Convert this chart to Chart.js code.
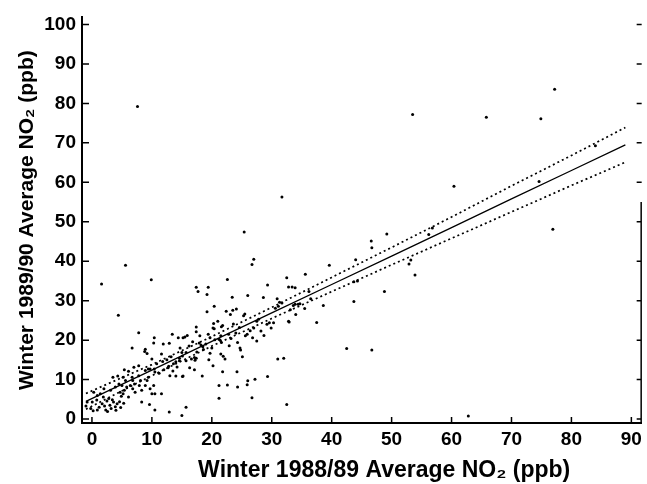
<!DOCTYPE html>
<html lang="en">
  <head>
    <meta charset="UTF-8" />
    <script src="https://cdn.jsdelivr.net/npm/chart.js@4.4.0/dist/chart.umd.min.js"></script>
    <title>Winter NO2 comparison</title>
    <style>
      body {
        margin: 0;
        padding: 0;
        background: #fff;
      }
      canvas {
        display: block;
      }
    </style>
  </head>
  <body>
    <canvas id="no2Chart" width="647" height="484"></canvas>
    <script>
      // station averages, [winter 88/89, winter 89/90] in ppb
      const stationPoints = [
        [7.6, 79.2], [31.7, 56.3], [25.4, 47.4], [77.2, 83.6], [53.5, 77.2], [65.8, 76.5],
        [74.9, 76.1], [84.0, 69.3], [60.4, 59.0], [74.6, 60.2], [76.9, 48.1],
        [49.2, 46.9], [56.2, 46.8], [56.8, 48.4], [46.6, 45.1], [46.7, 43.4], [44.0, 40.4],
        [39.6, 39.0], [35.6, 36.7], [32.5, 35.8], [32.8, 33.5], [33.4, 33.5], [33.9, 33.3],
        [36.2, 32.3], [53.2, 40.3], [52.9, 39.3], [53.9, 36.5], [48.8, 32.3], [43.7, 29.8],
        [38.6, 28.8], [32.9, 24.6], [37.5, 24.5], [42.5, 17.9], [46.7, 17.5], [32.0, 15.4],
        [32.5, 3.7], [62.8, 0.8], [31.7, 29.4], [33.1, 27.7], [33.6, 28.8], [34.4, 29.1],
        [43.7, 34.8], [44.3, 35.0], [33.9, 29.1], [34.7, 29.2], [35.5, 28.0], [36.5, 30.5],
        [34.0, 26.5],
        [5.6, 39.0], [1.6, 34.2], [9.9, 35.3], [4.4, 26.3], [7.8, 21.9], [13.4, 21.5],
        [27.0, 40.5], [26.7, 39.2], [22.6, 35.4], [17.4, 33.4], [19.4, 33.4], [17.7, 32.3],
        [19.2, 31.6], [29.3, 34.0], [26.0, 31.3], [23.4, 30.9], [28.6, 30.8], [20.4, 28.6],
        [19.2, 27.2], [22.4, 27.3], [23.5, 27.6], [24.1, 27.9], [23.1, 26.5], [30.9, 30.5],
        [31.3, 29.6], [31.1, 28.6], [30.6, 28.1], [25.3, 26.2], [25.5, 26.6], [21.0, 24.8],
        [20.3, 24.2], [20.2, 23.1], [20.4, 22.9], [21.6, 23.4], [21.8, 23.7], [23.6, 24.1],
        [17.4, 23.3], [17.4, 22.1], [15.9, 21.2], [15.5, 20.8], [15.2, 20.6], [18.0, 21.1],
        [19.4, 21.5], [19.7, 20.6], [20.5, 20.1], [21.2, 20.2], [21.5, 21.1], [17.9, 19.3],
        [18.2, 18.8], [18.5, 18.3], [21.4, 20.0], [21.6, 19.4], [24.3, 19.4], [19.7, 16.7],
        [17.5, 17.0], [17.1, 15.6], [17.4, 15.4], [16.6, 15.2], [17.2, 14.9], [15.7, 16.9],
        [15.1, 16.0], [14.6, 15.4], [15.7, 14.8], [21.5, 16.5], [21.9, 15.9], [22.2, 15.2],
        [24.7, 18.0], [24.8, 17.5], [25.1, 15.8], [27.5, 19.8], [19.5, 15.0], [20.2, 13.5],
        [16.3, 13.0], [17.1, 12.5], [21.8, 12.0], [15.1, 10.8], [18.4, 10.9], [22.6, 8.6],
        [24.3, 8.1], [26.0, 9.7], [27.2, 10.1], [21.2, 5.3], [26.7, 5.4], [15.7, 3.0],
        [15.0, 0.9], [29.2, 24.0], [29.6, 24.4], [30.3, 24.4], [29.9, 23.1], [27.5, 24.8],
        [27.8, 25.3], [25.6, 21.1], [25.9, 21.5], [24.2, 12.0], [25.9, 8.7], [21.2, 8.5],
        [14.0, 10.9], [15.2, 10.9], [32.8, 24.8], [31.0, 15.2], [29.3, 10.8],
        [16.2, 18.5], [16.8, 19.6], [19.0, 19.0], [18.6, 17.6], [20.0, 18.0], [22.8, 21.5],
        [23.2, 20.4], [22.9, 18.6], [26.4, 22.4], [27.0, 23.1], [26.8, 20.6], [28.2, 22.3],
        [28.7, 21.2], [24.6, 23.2], [24.0, 21.8],
        [10.4, 20.6], [10.3, 19.3], [11.9, 19.0], [12.9, 19.2], [6.7, 18.0], [8.9, 17.7],
        [9.2, 16.6], [8.8, 17.1], [11.6, 16.5], [12.5, 15.0], [13.2, 15.8], [14.0, 14.5],
        [14.6, 14.8], [13.6, 14.0], [11.8, 14.6], [12.8, 13.4], [14.4, 20.6], [14.7, 18.0],
        [15.0, 16.9], [10.0, 15.2], [10.8, 14.0], [10.4, 12.7], [9.7, 12.7], [5.4, 12.5],
        [6.1, 12.1], [7.0, 13.1], [7.8, 13.5], [4.3, 10.9], [3.5, 10.6], [5.2, 10.6],
        [5.6, 9.8], [5.8, 8.1], [5.4, 7.3], [5.2, 6.4], [6.7, 10.6], [6.8, 9.8],
        [6.4, 8.5], [7.1, 8.9], [6.8, 7.7], [7.2, 6.8], [7.8, 11.0], [8.1, 9.8],
        [7.9, 8.5], [8.3, 7.3], [8.9, 8.5], [9.2, 9.8], [9.4, 10.6], [9.7, 7.7],
        [10.3, 8.5], [10.0, 6.4], [10.5, 6.4], [11.6, 6.4], [8.3, 4.3], [10.5, 2.3],
        [12.9, 1.8], [9.6, 3.7], [0.3, 6.8], [0.8, 4.8], [0.05, 4.3], [-0.8, 4.3],
        [-1.0, 3.3], [-0.2, 2.7], [0.2, 2.1], [0.9, 2.3], [1.7, 3.9], [2.1, 3.3],
        [2.5, 4.6], [2.3, 2.3], [3.0, 3.5], [3.2, 2.7], [3.6, 4.3], [3.9, 3.1],
        [4.2, 3.9], [0.9, 6.0], [1.4, 6.4], [1.9, 5.6], [3.1, 7.3], [3.9, 8.1],
        [4.7, 6.8], [4.5, 8.9], [5.0, 8.5], [6.1, 5.6], [8.9, 12.3], [9.4, 12.7],
        [10.5, 11.9], [2.0, 7.7], [12.0, 12.5], [12.7, 13.0], [13.5, 12.2], [11.2, 11.6],
        [13.0, 11.0], [14.2, 13.2], [2.8, 5.2], [3.4, 4.9], [4.6, 4.4], [4.9, 5.8],
        [1.2, 3.0], [2.6, 1.9], [4.0, 2.2], [4.8, 2.9], [5.3, 4.0]
      ]

      // regression line and confidence band, read at these x positions
      const bandX = [-1, 10, 20, 30, 40, 50, 60, 70, 80, 89]
      const fitY = [4.5, 12.4, 19.7, 26.9, 34.1, 41.3, 48.5, 55.8, 63.0, 69.5]
      const upperY = [6.5, 13.8, 20.9, 28.3, 35.9, 43.5, 51.2, 59.1, 66.8, 73.9]
      const lowerY = [2.5, 11.0, 18.5, 25.5, 32.3, 39.1, 45.8, 52.5, 59.2, 65.1]

      const xTicks = [0, 10, 20, 30, 40, 50, 60, 70, 80, 90]
      const yTicks = [0, 10, 20, 30, 40, 50, 60, 70, 80, 90, 100]

      const toXY = (ys) => bandX.map((x, i) => ({ x: x, y: ys[i] }))

      // ticks in this figure point into the plot, so draw them by hand
      const inwardTicks = {
        id: 'inwardTicks',
        afterDraw(chart) {
          const { ctx, chartArea, scales } = chart
          ctx.save()
          ctx.strokeStyle = '#000'
          ctx.lineWidth = 1.5
          ctx.beginPath()
          xTicks.forEach((v) => {
            const px = scales.x.getPixelForValue(v)
            ctx.moveTo(px, chartArea.bottom)
            ctx.lineTo(px, chartArea.bottom - 6)
          })
          yTicks.forEach((v) => {
            const py = scales.y.getPixelForValue(v)
            ctx.moveTo(chartArea.left, py)
            ctx.lineTo(chartArea.left + 7, py)
            ctx.moveTo(chartArea.right, py)
            ctx.lineTo(chartArea.right - 5, py)
          })
          // right frame only survives on the lower half
          ctx.moveTo(chartArea.right - 0.5, scales.y.getPixelForValue(55))
          ctx.lineTo(chartArea.right - 0.5, chartArea.bottom)
          ctx.stroke()
          ctx.restore()
        },
      }

      const fontFamily = 'Liberation Sans, Arial, sans-serif'
      const tickFont = { family: fontFamily, size: 19, weight: 'bold' }

      new Chart(document.getElementById('no2Chart'), {
        type: 'scatter',
        data: {
          datasets: [
            {
              data: stationPoints.map((p) => ({ x: p[0], y: p[1] })),
              backgroundColor: '#000',
              borderWidth: 0,
              pointRadius: 1.5,
            },
            {
              data: toXY(fitY),
              showLine: true,
              borderColor: '#000',
              borderWidth: 1.3,
              pointRadius: 0,
            },
            {
              data: toXY(upperY),
              showLine: true,
              borderColor: '#000',
              borderWidth: 1.7,
              borderDash: [2, 3],
              pointRadius: 0,
            },
            {
              data: toXY(lowerY),
              showLine: true,
              borderColor: '#000',
              borderWidth: 1.7,
              borderDash: [2, 3],
              pointRadius: 0,
            },
          ],
        },
        options: {
          responsive: false,
          animation: false,
          layout: { padding: { top: 12, right: 1, left: 0, bottom: 0 } },
          plugins: {
            legend: { display: false },
            tooltip: { enabled: false },
          },
          scales: {
            x: {
              type: 'linear',
              min: -1.66,
              max: 91.72,
              afterBuildTicks: (scale) => {
                scale.ticks = xTicks.map((v) => ({ value: v }))
              },
              afterFit: (scale) => {
                scale.height = 61
              },
              grid: { display: false, drawTicks: false },
              border: { display: true, color: '#000', width: 2 },
              ticks: { color: '#000', font: tickFont, padding: 5, maxRotation: 0 },
              title: {
                display: true,
                // leading spaces push the title right, as in the print
                text: '       Winter 1988/89 Average NO₂ (ppb)',
                color: '#000',
                font: { family: fontFamily, size: 23, weight: 'bold' },
                padding: { top: 0, bottom: 0 },
              },
            },
            y: {
              type: 'linear',
              min: -1.0,
              max: 101.8,
              afterBuildTicks: (scale) => {
                scale.ticks = yTicks.map((v) => ({ value: v }))
              },
              afterFit: (scale) => {
                scale.width = 82
              },
              grid: { display: false, drawTicks: false },
              border: { display: true, color: '#000', width: 2 },
              ticks: { color: '#000', font: tickFont, padding: 6 },
              title: {
                display: true,
                text: 'Winter 1989/90 Average NO₂ (ppb)',
                color: '#000',
                font: { family: fontFamily, size: 21, weight: 'bold' },
                padding: { top: 15, bottom: 0 },
              },
            },
          },
        },
        plugins: [inwardTicks],
      })
    </script>
  </body>
</html>
